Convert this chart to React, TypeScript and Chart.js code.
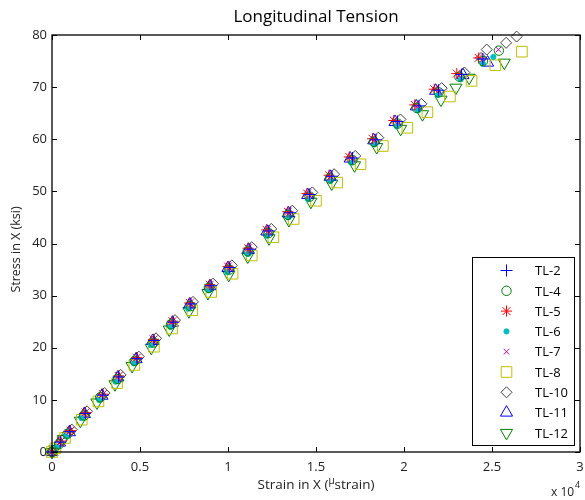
import React, { useEffect, useRef } from "react";
import { Chart, registerables } from "chart.js";
import { drawPoint } from "chart.js/helpers";

Chart.register(...registerables);

// ---- data (strain in microstrain, stress in ksi) ----
const seriesLabels = ["TL-2", "TL-4", "TL-5", "TL-6", "TL-7", "TL-8", "TL-10", "TL-11", "TL-12"];

const tl2Stress = [0, 1.9, 3.9, 7.4, 10.9, 14.4, 17.9, 21.4, 24.9, 28.4, 31.9, 35.4, 38.9, 42.4, 45.9, 49.4, 52.9, 56.4, 59.9, 63.4, 66.4, 69.4, 72.4, 75.4];
const tl2Strain = [0, 470, 1010, 1880, 2880, 3790, 4830, 5800, 6890, 7890, 9040, 10100, 11250, 12320, 13530, 14640, 15900, 17070, 18410, 19630, 20850, 21960, 23270, 24480];

const tl4Stress = [0, 1.5, 3.5, 7, 10.5, 14, 17.5, 21, 24.5, 28, 31.5, 35, 38.5, 42, 45.5, 49, 52.5, 56, 59.5, 63, 66, 69, 72, 75, 77];
const tl4Strain = [0, 400, 880, 1830, 2740, 3750, 4700, 5770, 6760, 7870, 8910, 10080, 11120, 12310, 13410, 14640, 15790, 17070, 18290, 19640, 20730, 21970, 23150, 24490, 25390];

const tl5Stress = [0, 2.1, 4.1, 7.6, 11.1, 14.6, 18.1, 21.6, 25.1, 28.6, 32.1, 35.6, 39.1, 42.6, 46.1, 49.6, 53.1, 56.6, 60.1, 63.6, 66.6, 69.6, 72.6, 75.6];
const tl5Strain = [0, 510, 1050, 1900, 2890, 3790, 4820, 5770, 6840, 7830, 8960, 10000, 11140, 12200, 13400, 14490, 15740, 16890, 18210, 19420, 20610, 21720, 23000, 24240];

const tl6Stress = [0, 1.0, 3.0, 6.5, 10.0, 13.5, 17.0, 20.5, 24.0, 27.5, 31.0, 34.5, 38.0, 41.5, 45.0, 48.5, 52.0, 55.5, 59.0, 62.5, 65.5, 68.5, 71.5, 74.5, 75.8];
const tl6Strain = [0, 260, 790, 1670, 2680, 3610, 4650, 5620, 6730, 7740, 8900, 9960, 11120, 12210, 13420, 14550, 15820, 17000, 18330, 19580, 20790, 21920, 23220, 24480, 25080];

const tl7Stress = [0, 1.7, 3.7, 7.2, 10.7, 14.2, 17.7, 21.2, 24.7, 28.2, 31.7, 35.2, 38.7, 42.2, 45.7, 49.2, 52.7, 56.2, 59.7, 63.2, 66.2, 69.2, 72.2, 75.2, 77.2];
const tl7Strain = [0, 450, 920, 1870, 2780, 3780, 4730, 5790, 6770, 7890, 8930, 10090, 11130, 12310, 13410, 14640, 15780, 17060, 18270, 19620, 20710, 21940, 23120, 24450, 25360];

const tl8Stress = [0, 0.7, 2.7, 6.2, 9.7, 13.2, 16.7, 20.2, 23.7, 27.2, 30.7, 34.2, 37.7, 41.2, 44.7, 48.2, 51.7, 55.2, 58.7, 62.2, 65.2, 68.2, 71.2, 74.2, 76.8];
const tl8Strain = [0, 190, 740, 1690, 2640, 3700, 4680, 5790, 6820, 7970, 9050, 10260, 11350, 12580, 13730, 15000, 16200, 17530, 18800, 20190, 21330, 22610, 23840, 25190, 26700];

const tl10Stress = [0, 2.3, 4.3, 7.8, 11.3, 14.8, 18.3, 21.8, 25.3, 28.8, 32.3, 35.8, 39.3, 42.8, 46.3, 49.8, 53.3, 56.8, 60.3, 63.8, 66.8, 69.8, 72.8, 75.6, 77.2, 78.5, 79.7];
const tl10Strain = [0, 560, 1120, 1990, 2980, 3900, 4930, 5910, 6990, 8010, 9150, 10220, 11350, 12460, 13650, 14790, 16030, 17230, 18540, 19800, 20990, 22140, 23430, 24380, 24700, 25800, 26400];

const tl11Stress = [0, 1.8, 3.8, 7.3, 10.8, 14.3, 17.8, 21.3, 24.8, 28.3, 31.8, 35.3, 38.8, 42.3, 45.8, 49.3, 52.8, 56.3, 59.8, 63.3, 66.3, 69.3, 72.3, 74.7];
const tl11Strain = [0, 430, 990, 1840, 2840, 3740, 4780, 5720, 6840, 7820, 8970, 10000, 11160, 12210, 13430, 14530, 15800, 16940, 18280, 19490, 20700, 21800, 23350, 24750];

const tl12Stress = [0, 0.5, 2.5, 6.0, 9.5, 13.0, 16.5, 20.0, 23.5, 27.0, 30.5, 34.0, 37.5, 41.0, 44.5, 48.0, 51.5, 55.0, 58.5, 62.0, 64.8, 67.6, 69.9, 71.8, 74.7];
const tl12Strain = [0, 150, 640, 1610, 2550, 3580, 4550, 5640, 6660, 7780, 8860, 10040, 11120, 12330, 13460, 14710, 15890, 17190, 18450, 19810, 21050, 22100, 22950, 23700, 25700];

const xTickValues = [0, 5000, 10000, 15000, 20000, 25000, 30000];
const yTickValues = [0, 10, 20, 30, 40, 50, 60, 70, 80];

const FONT = "'Open Sans', Lato, 'DejaVu Sans', sans-serif";
const PLOT_RIGHT = 580;

type Style = {
  color: string;
  fill: string;
  pointStyle: string;
  radius: number;
  rotation: number;
};

const styles: Style[] = [
  { color: "#0000ff", fill: "rgba(0,0,0,0)", pointStyle: "cross", radius: 6, rotation: 0 },
  { color: "#008000", fill: "rgba(0,0,0,0)", pointStyle: "circle", radius: 4.7, rotation: 0 },
  { color: "#ff0000", fill: "rgba(0,0,0,0)", pointStyle: "star", radius: 5.5, rotation: 0 },
  { color: "#00bfbf", fill: "#00bfbf", pointStyle: "circle", radius: 2.6, rotation: 0 },
  { color: "#bf00bf", fill: "rgba(0,0,0,0)", pointStyle: "crossRot", radius: 4, rotation: 0 },
  { color: "#bfbf00", fill: "rgba(0,0,0,0)", pointStyle: "rect", radius: 7.5, rotation: 0 },
  { color: "#404040", fill: "rgba(0,0,0,0)", pointStyle: "rectRot", radius: 5.5, rotation: 0 },
  { color: "#0000ff", fill: "rgba(0,0,0,0)", pointStyle: "triangle", radius: 7, rotation: 0 },
  { color: "#008000", fill: "rgba(0,0,0,0)", pointStyle: "triangle", radius: 7, rotation: 180 },
];

const seriesX = [tl2Strain, tl4Strain, tl5Strain, tl6Strain, tl7Strain, tl8Strain, tl10Strain, tl11Strain, tl12Strain];
const seriesY = [tl2Stress, tl4Stress, tl5Stress, tl6Stress, tl7Stress, tl8Stress, tl10Stress, tl11Stress, tl12Stress];

const layoutPlugin = {
  id: "fixRight",
  afterLayout(chart: any) {
    const xs = chart.scales.x;
    chart.chartArea.right = PLOT_RIGHT;
    chart.chartArea.width = PLOT_RIGHT - chart.chartArea.left;
    xs.right = PLOT_RIGHT;
    xs.width = PLOT_RIGHT - xs.left;
    xs.configure();
    const ys = chart.scales.y;
    ys.configure();
  },
};

const framePlugin = {
  id: "matlabFrame",
  afterDraw(chart: any) {
    const { ctx, chartArea } = chart;
    const { left, right, top, bottom } = chartArea;
    const xs = chart.scales.x;
    const ys = chart.scales.y;
    ctx.save();

    // box
    ctx.strokeStyle = "#000";
    ctx.lineWidth = 1.3;
    ctx.strokeRect(left, top, right - left, bottom - top);

    // inward ticks
    ctx.lineWidth = 1;
    ctx.beginPath();
    xTickValues.forEach((v) => {
      const px = Math.round(xs.getPixelForValue(v)) + 0.5;
      ctx.moveTo(px, bottom);
      ctx.lineTo(px, bottom - 5);
      ctx.moveTo(px, top);
      ctx.lineTo(px, top + 5);
    });
    yTickValues.forEach((v) => {
      const py = Math.round(ys.getPixelForValue(v)) + 0.5;
      ctx.moveTo(left, py);
      ctx.lineTo(left + 5, py);
      ctx.moveTo(right, py);
      ctx.lineTo(right - 5, py);
    });
    ctx.stroke();

    // title
    const cx = (left + right) / 2;
    ctx.fillStyle = "#000";
    ctx.font = `17px ${FONT}`;
    ctx.textAlign = "center";
    ctx.textBaseline = "middle";
    ctx.fillText("Longitudinal Tension", cx, 17);

    // y axis title
    ctx.save();
    ctx.translate(16, (top + bottom) / 2 + 6);
    ctx.rotate(-Math.PI / 2);
    ctx.font = `12.5px ${FONT}`;
    ctx.fillStyle = "#222";
    ctx.textAlign = "center";
    ctx.textBaseline = "middle";
    ctx.fillText("Stress in X (ksi)", 0, 0);
    ctx.restore();

    // x axis title with superscript mu
    ctx.fillStyle = "#222";
    ctx.textAlign = "left";
    ctx.textBaseline = "alphabetic";
    const p1 = "Strain in X (";
    const p2 = "\u03bc";
    const p3 = "strain)";
    ctx.font = `13.5px ${FONT}`;
    const w1 = ctx.measureText(p1).width;
    const w3 = ctx.measureText(p3).width;
    ctx.font = `10px ${FONT}`;
    const w2 = ctx.measureText(p2).width;
    const total = w1 + w2 + w3;
    let tx = cx - total / 2;
    const ty = 489;
    ctx.font = `13.5px ${FONT}`;
    ctx.fillText(p1, tx, ty);
    tx += w1;
    ctx.font = `10px ${FONT}`;
    ctx.fillText(p2, tx, ty - 5);
    tx += w2;
    ctx.font = `13.5px ${FONT}`;
    ctx.fillText(p3, tx, ty);

    // x 10^4 exponent label
    ctx.font = `12px ${FONT}`;
    const ex = 551;
    ctx.fillText("x 10", ex, 496);
    const ew = ctx.measureText("x 10").width;
    ctx.font = `9px ${FONT}`;
    ctx.fillText("4", ex + ew + 1, 488);

    // legend
    const lx = 472, ly = 257, lw = right - 6 - 472, lh = 188;
    ctx.fillStyle = "#fff";
    ctx.fillRect(lx, ly, lw, lh);
    ctx.strokeStyle = "#000";
    ctx.lineWidth = 1;
    ctx.strokeRect(lx + 0.5, ly + 0.5, lw, lh);
    seriesLabels.forEach((lab, i) => {
      const st = styles[i];
      const yy = 270.5 + i * 20.3;
      ctx.save();
      ctx.strokeStyle = st.color;
      ctx.fillStyle = st.fill;
      ctx.lineWidth = 1;
      drawPoint(ctx, { pointStyle: st.pointStyle as any, radius: st.radius, rotation: st.rotation, borderWidth: 1 }, 506.5, yy);
      ctx.restore();
      ctx.fillStyle = "#000";
      ctx.font = `13px ${FONT}`;
      ctx.textAlign = "left";
      ctx.textBaseline = "middle";
      ctx.fillText(lab, 535, yy + 1);
    });

    ctx.restore();
  },
};

export default function App() {
  const canvasRef = useRef<HTMLCanvasElement | null>(null);

  useEffect(() => {
    document.body.style.margin = "0";
    document.body.style.overflow = "hidden";
    const canvas = canvasRef.current;
    if (!canvas) return;

    const datasets = seriesLabels.map((label, i) => {
      const st = styles[i];
      return {
        label,
        data: seriesX[i].map((x, j) => ({ x, y: seriesY[i][j] })),
        showLine: false,
        clip: false as any,
        pointStyle: st.pointStyle as any,
        pointRadius: st.radius,
        pointRotation: st.rotation,
        pointBorderWidth: 1,
        pointBorderColor: st.color,
        pointBackgroundColor: st.fill,
        pointHoverRadius: st.radius,
      };
    });

    const chart = new Chart(canvas, {
      type: "scatter",
      data: { datasets },
      options: {
        responsive: false,
        animation: false,
        devicePixelRatio: 1,
        events: [],
        layout: { padding: { top: 35, right: 0, left: 0, bottom: 0 } },
        plugins: {
          legend: { display: false },
          title: { display: false },
          tooltip: { enabled: false },
        },
        scales: {
          x: {
            type: "linear",
            min: 0,
            max: 30000,
            afterFit: (s: any) => {
              s.height = 48;
            },
            afterBuildTicks: (s: any) => {
              s.ticks = xTickValues.map((v) => ({ value: v }));
            },
            grid: { display: false, drawTicks: false },
            border: { display: false },
            ticks: {
              padding: 7,
              color: "#222",
              font: { family: FONT, size: 13 },
              maxRotation: 0,
              autoSkip: false,
              callback: (v: any) => String(Number(v) / 10000),
            },
          },
          y: {
            type: "linear",
            min: 0,
            max: 80,
            afterFit: (s: any) => {
              s.width = 52;
            },
            afterBuildTicks: (s: any) => {
              s.ticks = yTickValues.map((v) => ({ value: v }));
            },
            grid: { display: false, drawTicks: false },
            border: { display: false },
            ticks: {
              padding: 5,
              color: "#222",
              font: { family: FONT, size: 13 },
              autoSkip: false,
              callback: (v: any) => String(v),
            },
          },
        },
      },
      plugins: [layoutPlugin, framePlugin],
    });

    return () => chart.destroy();
  }, []);

  return (
    <div style={{ width: 585, height: 500, background: "#fff" }}>
      <canvas ref={canvasRef} width={585} height={500} style={{ display: "block" }} />
    </div>
  );
}
